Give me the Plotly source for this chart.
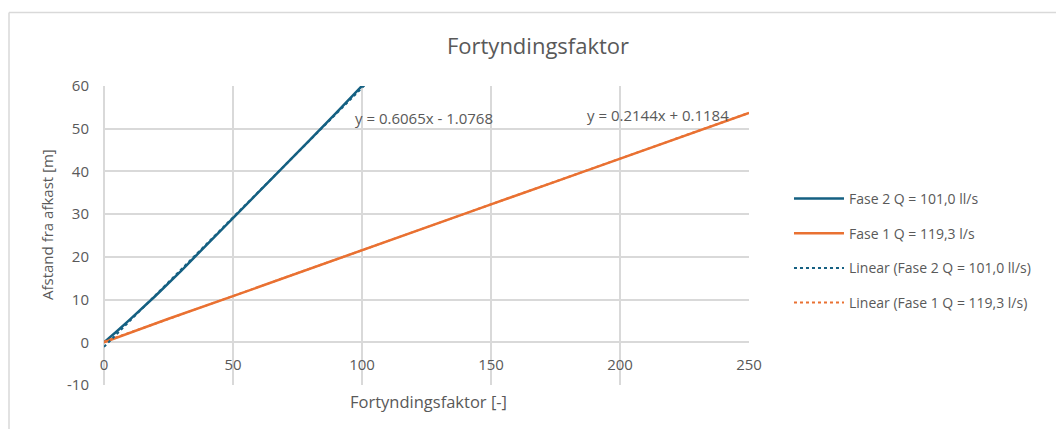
import plotly.graph_objects as go
import numpy as np

# Data
fase2_x = [0, 2, 5, 10, 20, 30, 40, 50, 60, 70, 80, 90, 100, 102]
fase2_y = [0, 1.0, 2.6, 5.3, 10.9, 16.8, 22.9, 29.0, 35.1, 41.3, 47.5, 53.7, 60.0, 61.3]
fase1_x = [0, 25, 50, 75, 100, 125, 150, 175, 200, 225, 250]
fase1_y = [0, 5.5, 10.8, 16.2, 21.5, 26.9, 32.3, 37.6, 43.0, 48.3, 53.7]
trend2 = {"slope": 0.6065, "intercept": -1.0768, "text": "y = 0.6065x - 1.0768"}
trend1 = {"slope": 0.2144, "intercept": 0.1184, "text": "y = 0.2144x + 0.1184"}
names = ["Fase 2 Q = 101,0 ll/s", "Fase 1 Q = 119,3 l/s",
         "Linear (Fase 2 Q = 101,0 ll/s)", "Linear (Fase 1 Q = 119,3 l/s)"]
x_ticks = [0, 50, 100, 150, 200, 250]
x_ticktext = ["0", "50", "100", "150", "200", "250"]
y_ticks = [-10, 0, 10, 20, 30, 40, 50, 60]
y_ticktext = ["-10", "0", "10", "20", "30", "40", "50", "60"]

BLUE = "#156082"
ORANGE = "#E97132"
GRID = "#d9d9d9"
TXT = "#595959"
FONT = "Open Sans"

t2x = np.array([0, max(fase2_x)])
t1x = np.array([0, max(fase1_x)])

fig = go.Figure()
fig.add_trace(go.Scatter(x=fase2_x, y=fase2_y, mode="lines", name=names[0],
                         line=dict(color=BLUE, width=2.5), legendgroup="a"))
fig.add_trace(go.Scatter(x=fase1_x, y=fase1_y, mode="lines", name=names[1],
                         line=dict(color=ORANGE, width=2.5), legendgroup="b"))
fig.add_trace(go.Scatter(x=t2x, y=trend2["slope"] * t2x + trend2["intercept"], mode="lines",
                         name=names[2], line=dict(color=BLUE, width=2, dash="dot"), legendgroup="c"))
fig.add_trace(go.Scatter(x=t1x, y=trend1["slope"] * t1x + trend1["intercept"], mode="lines",
                         name=names[3], line=dict(color=ORANGE, width=2, dash="dot"), legendgroup="d"))

fig.update_layout(
    width=1056, height=429,
    margin=dict(l=104, r=307, t=86, b=44),
    paper_bgcolor="white", plot_bgcolor="white",
    font=dict(family=FONT, color=TXT, size=14),
    title=dict(text="Fortyndingsfaktor", x=538 / 1056, xanchor="center",
               y=1 - 46 / 429, yanchor="middle", font=dict(size=22, color=TXT)),
    legend=dict(x=1.062, y=0.676, xanchor="left", yanchor="top",
                font=dict(size=14, color=TXT), traceorder="grouped", itemwidth=50,
                tracegroupgap=13.5, bgcolor="rgba(0,0,0,0)"),
    xaxis=dict(range=[0, 250], tickvals=x_ticks, ticktext=x_ticktext, showgrid=True,
               gridcolor=GRID, gridwidth=1.5,
               zeroline=True, zerolinecolor=GRID, zerolinewidth=1.5, showline=False,
               anchor="free", position=10 / 70, ticks="", ticklabelstandoff=12,
               tickfont=dict(size=15, color=TXT)),
    yaxis=dict(range=[-10, 60], tickvals=y_ticks, ticktext=y_ticktext, showgrid=True,
               gridcolor=GRID, gridwidth=1.5,
               zeroline=True, zerolinecolor=GRID, zerolinewidth=1.5, showline=False,
               ticks="", ticklabelstandoff=14, tickfont=dict(size=15, color=TXT)),
)

fig.add_annotation(text=trend2["text"], x=96.5, y=52.5, xref="x", yref="y",
                   xanchor="left", yanchor="middle", showarrow=False,
                   font=dict(size=15, color=TXT))
fig.add_annotation(text=trend1["text"], x=186.4, y=53.2, xref="x", yref="y",
                   xanchor="left", yanchor="middle", showarrow=False,
                   font=dict(size=15, color=TXT))
fig.add_annotation(text="Fortyndingsfaktor [-]", x=(428 - 104) / 645, y=(385 - 401) / 299,
                   xref="paper", yref="paper", xanchor="center", yanchor="middle",
                   showarrow=False, font=dict(size=16.5, color=TXT))
fig.add_annotation(text="Afstand fra afkast [m]", x=(47 - 104) / 645, y=(385 - 225) / 299,
                   xref="paper", yref="paper", xanchor="center", yanchor="middle",
                   textangle=-90, showarrow=False, font=dict(size=15, color=TXT))

# chart frame (top and left edges)
top = (385 - 12.5) / 299
left = (9 - 104) / 645
fig.add_shape(type="line", xref="paper", yref="paper", x0=left, x1=(1060 - 104) / 645,
              y0=top, y1=top, line=dict(color=GRID, width=1.5))
fig.add_shape(type="line", xref="paper", yref="paper", x0=left, x1=left,
              y0=top, y1=(385 - 432) / 299, line=dict(color=GRID, width=1.5))

fig.write_html("out.html", config={"displayModeBar": False},
               post_script="document.body.style.margin='0px';")
